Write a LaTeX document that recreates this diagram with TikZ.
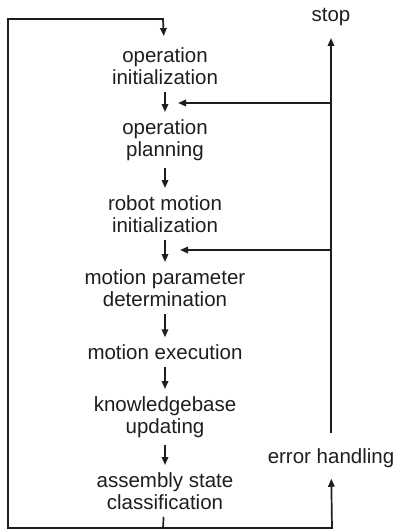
\documentclass[tikz,border=0pt]{standalone}
\usepackage{fontspec}
\setmainfont{Liberation Sans}
\usetikzlibrary{arrows.meta}
\definecolor{INK}{HTML}{1E1E1E}

\tikzset{
  stage/.style={align=center, inner sep=0pt, text=INK, font=\fontsize{20.5}{22.5}\selectfont},
  wire/.style={line width=1.7pt, INK},
  flow/.style={wire, -{Triangle[length=8pt,width=6.5pt]}},
  gap/.style={shorten <=7pt, shorten >=7pt}
}

\begin{document}
\begin{tikzpicture}[x=1pt, y=-1pt]
  \useasboundingbox (0,0) rectangle (398,531);

  % main sequence
  \node[stage] (opinit)  at (165, 66)  {operation\\initialization};
  \node[stage] (opplan)  at (165, 140) {operation\\planning};
  \node[stage] (robinit) at (165, 214) {robot motion\\initialization};
  \node[stage] (mpdet)   at (165, 288) {motion parameter\\determination};
  \node[stage] (mexec)   at (165, 352) {motion execution};
  \node[stage] (kbupd)   at (165, 417) {knowledgebase\\updating};
  \node[stage] (asclass) at (165, 491) {assembly state\\classification};

  % side branch
  \node[stage] (stop) at (331, 17)  {stop};
  \node[stage] (errh) at (331, 458) {error handling};

  \draw[flow, gap] (opinit) -- (opplan);
  \draw[flow, gap] (opplan) -- (robinit);
  \draw[flow, gap] (robinit) -- (mpdet);
  \draw[flow, gap] (mpdet) -- (mexec);
  \draw[flow, gap] (mexec) -- (kbupd);
  \draw[flow, gap] (kbupd) -- (asclass);

  % loop back to the start
  \coordinate (bc) at (163,528);
  \coordinate (bl) at (8,528);
  \coordinate (tl) at (8,19);
  \coordinate (tc) at (163,19);
  \coordinate (br) at (332,528);
  \draw[flow, shorten <=7pt, shorten >=11pt] (asclass) -- (bc) -- (bl) -- (tl) -- (tc) -- (opinit);

  % error path
  \draw[flow, line cap=rect, shorten >=11pt] (bc) -- (br) -- (errh);
  \draw[flow, shorten <=15pt, shorten >=12pt] (errh) -- (stop);

  % re-entry points
  \coordinate (r1) at (332,103);
  \coordinate (m1) at (178,103);
  \coordinate (r2) at (332,250);
  \coordinate (m2) at (180,250);
  \draw[flow] (r1) -- (m1);
  \draw[flow] (r2) -- (m2);
\end{tikzpicture}
\end{document}
